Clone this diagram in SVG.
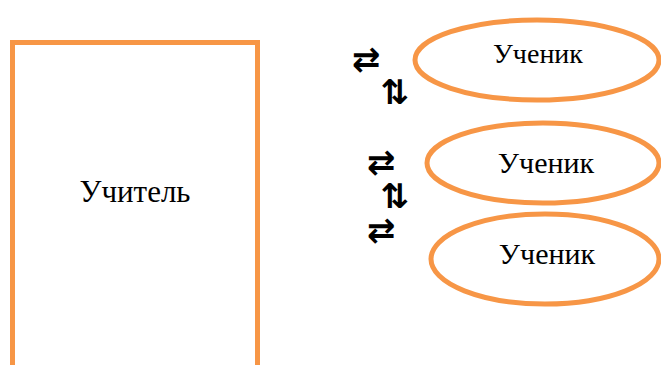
<svg xmlns="http://www.w3.org/2000/svg" width="661" height="365" viewBox="0 0 661 365">
<style>
.shape{fill:#fff;stroke:#F79646;stroke-width:5}
.lbl{font-family:'Liberation Serif','DejaVu Serif',serif;fill:#000;text-anchor:middle}
.arr{font-family:'DejaVu Sans',sans-serif;font-weight:bold;font-size:34px;fill:#000;text-anchor:middle}
</style>
<rect width="661" height="365" fill="#fff"/>
<g id="teacher">
<rect class="shape" x="12.5" y="42.5" width="245" height="340"/>
<text class="lbl" x="135" y="202" font-size="31">Учитель</text>
</g>
<g id="student1">
<ellipse class="shape" cx="537" cy="60" rx="122" ry="40"/>
<text class="lbl" x="538" y="63" font-size="28">Ученик</text>
</g>
<g id="student2">
<ellipse class="shape" cx="543" cy="163" rx="116" ry="40"/>
<text class="lbl" x="546" y="173" font-size="30">Ученик</text>
</g>
<g id="student3">
<ellipse class="shape" cx="545" cy="259" rx="114" ry="45"/>
<text class="lbl" x="547" y="264" font-size="30">Ученик</text>
</g>
<g id="connectors">
<text class="arr" x="366" y="71">⇄</text>
<text class="arr" x="395" y="104">⇅</text>
<text class="arr" x="381" y="174">⇄</text>
<text class="arr" x="395" y="208">⇅</text>
<text class="arr" x="381" y="242">⇄</text>
</g>
</svg>
